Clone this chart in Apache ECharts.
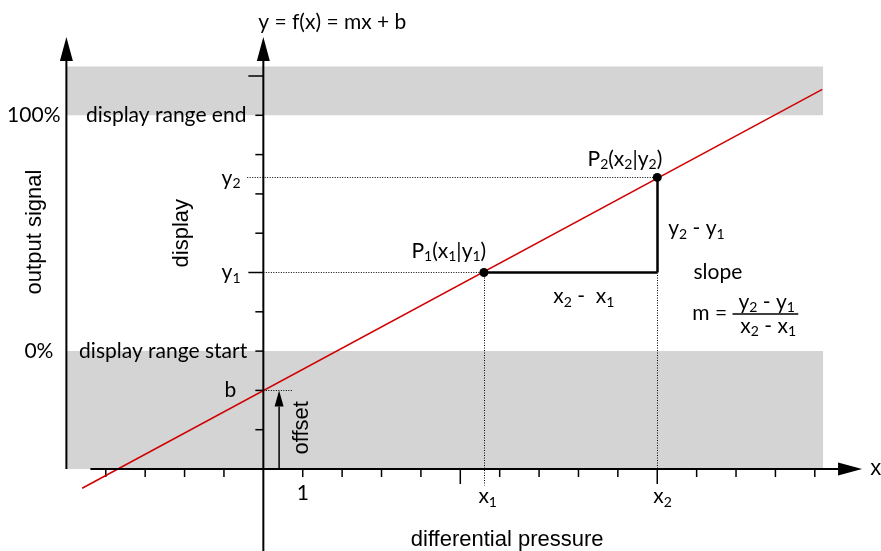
<!DOCTYPE html>
<html>
<head>
<meta charset="utf-8">
<script src="https://cdn.jsdelivr.net/npm/echarts@6/dist/echarts.min.js"></script>
<style>
html, body { margin: 0; padding: 0; background: #fff; }
#chart { width: 881px; height: 551px; }
</style>
</head>
<body>
<div id="chart"></div>
<script>
// all values are in axis units (1 unit = distance between two ticks)
var xTicks = [-4, -3, -2, -1, 1, 2, 3, 4, 5, 6, 7, 8, 9, 10, 11, 12, 13, 14]
var yTicks = [1, 2, 3, 4, 5, 6, 7, 8, 9, 10]
var majorTicks = [5, 10]

// grey bands: below display range start and above display range end
var bandLow = [-5, 0, 14.21, 3]
var bandHigh = [-5, 9, 14.21, 10.24]

// the characteristic line y = mx + b
var lineStart = [-4.6, -0.49]
var lineEnd = [14.19, 9.66]
var P1 = [5.6, 5]
var P2 = [10, 7.42]
var offsetB = 2

// axes and the offset arrow: [x0, y0, x1, y1]
var axisX = [-4.39, 0, 15.2, 0]
var axisDisplay = [0, -2.1, 0, 10.99]
var axisOutput = [-5, 0, -5, 10.99]
var arrowOffset = [0.4, 0, 0.4, offsetB]

// dotted helper lines
var dottedLines = [
    [[-0.41, P2[1]], P2],
    [[0, P1[1]], P1],
    [P1, [P1[0], -0.42]],
    [[P2[0], P1[1]], [P2[0], 0]],
    [[0, offsetB], [0.76, offsetB]]
]

// solid triangle and fraction bar
var solidLines = [
    [P1, [P2[0], P1[1]]],
    [[P2[0], P1[1]], P2]
]
var fractionBar = [[11.91, 3.95], [13.58, 3.95]]

// labels: [x, y, text, align, font, rotate]
var labels = [
    [-0.13, 11.37, 'y = f(x) = mx + b', 'left', 'c', 0],
    [-5.15, 9.0, '100%', 'right', 'c', 0],
    [-0.43, 9.0, 'display range end', 'right', 'c', 0],
    [-5.33, 3.0, '0%', 'right', 'c', 0],
    [-0.41, 3.0, 'display range start', 'right', 'c', 0],
    [-5.81, 6.03, 'output signal', 'center', 'a', 90],
    [-2.06, 6.0, 'display', 'center', 'a', 90],
    [-0.58, 7.41, 'y{s|2}', 'right', 'c', 0],
    [-0.58, 5.0, 'y{s|1}', 'right', 'c', 0],
    [-0.69, 2.0, 'b', 'right', 'c', 0],
    [1.0, -0.61, '1', 'center', 'c', 0],
    [5.46, -0.69, 'x{s|1}', 'left', 'c', 0],
    [9.9, -0.69, 'x{s|2}', 'left', 'c', 0],
    [15.41, 0.0, 'x', 'left', 'a', 0],
    [6.19, -1.81, 'differential pressure', 'center', 'a', 0],
    [3.76, 5.55, 'P{s|1}(x{s|1}|y{s|1})', 'left', 'c', 0],
    [8.23, 7.89, 'P{s|2}(x{s|2}|y{s|2})', 'left', 'c', 0],
    [10.28, 6.13, 'y{s|2} - y{s|1}', 'left', 'c', 0],
    [7.36, 4.40, 'x{s|2} -  x{s|1}', 'left', 'c', 0],
    [10.92, 5.01, 'slope', 'left', 'c', 0],
    [10.89, 3.97, 'm =', 'left', 'c', 0],
    [12.06, 4.25, 'y{s|2} - y{s|1}', 'left', 'c', 0],
    [12.11, 3.64, 'x{s|2} - x{s|1}', 'left', 'c', 0],
    [0.99, 1.05, 'offset', 'center', 'a', 90]
]

var calibri = 'Lato'
var arial = 'Liberation Sans'

var chart = echarts.init(document.getElementById('chart'))

function arrowItem(params, api) {
    var a = api.coord([api.value(0), api.value(1)])
    var e = api.coord([api.value(2), api.value(3)])
    var small = params.dataIndex == 3
    var hl = small ? 16 : 24 // head length
    var hw = small ? 9 : 13  // head width
    var dx = e[0] - a[0], dy = e[1] - a[1]
    var len = Math.sqrt(dx * dx + dy * dy)
    dx /= len; dy /= len
    var bx = e[0] - dx * hl, by = e[1] - dy * hl
    return {
        type: 'group',
        children: [{
            type: 'line',
            shape: { x1: a[0], y1: a[1], x2: bx, y2: by },
            style: { stroke: '#000', lineWidth: small ? 1.5 : 2 }
        }, {
            type: 'polygon',
            shape: { points: [e, [bx - dy * hw / 2, by + dx * hw / 2], [bx + dy * hw / 2, by - dx * hw / 2]] },
            style: { fill: '#000' }
        }]
    }
}

function tickItem(horizontal) {
    return function (params, api) {
        var v = api.value(0)
        var len = majorTicks.indexOf(v) >= 0 ? 15 : 8
        var p = horizontal ? api.coord([v, 0]) : api.coord([0, v])
        return {
            type: 'line',
            shape: horizontal ? { x1: p[0], y1: p[1], x2: p[0], y2: p[1] + len }
                : { x1: p[0] - len, y1: p[1], x2: p[0], y2: p[1] },
            style: { stroke: '#000', lineWidth: 1.5 }
        }
    }
}

function labelItem(params, api) {
    var l = labels[params.dataIndex]
    var p = api.coord([l[0], l[1]])
    var isArial = l[4] == 'a'
    return {
        type: 'text',
        x: p[0],
        y: p[1],
        rotation: l[5] * Math.PI / 180,
        style: {
            text: l[2],
            fill: '#000',
            fontFamily: isArial ? arial : calibri,
            fontSize: isArial ? 22 : 21,
            align: l[3],
            verticalAlign: 'middle',
            rich: {
                // subscript: small digits pushed to the bottom of a taller line
                s: { fontFamily: calibri, fontSize: 14, verticalAlign: 'bottom', lineHeight: 26, fill: '#000' }
            }
        }
    }
}

function rectItem(params, api) {
    var a = api.coord([api.value(0), api.value(3)])
    var e = api.coord([api.value(2), api.value(1)])
    return {
        type: 'rect',
        shape: { x: a[0], y: a[1], width: e[0] - a[0], height: e[1] - a[1] },
        style: { fill: '#d4d4d4' }
    }
}

var option = {
    animation: false,
    grid: { left: 27, top: 36.7, width: 827.2, height: 510.9 },
    xAxis: { type: 'value', min: -6, max: 15, show: false },
    yAxis: { type: 'value', min: -2, max: 11, show: false },
    series: [{
        // grey bands
        type: 'custom',
        z: 1,
        silent: true,
        renderItem: rectItem,
        data: [bandLow, bandHigh]
    }, {
        type: 'custom',
        z: 5,
        silent: true,
        renderItem: tickItem(true),
        data: xTicks.map(function (v) { return [v] })
    }, {
        type: 'custom',
        z: 5,
        silent: true,
        renderItem: tickItem(false),
        data: yTicks.map(function (v) { return [v] })
    }, {
        type: 'lines',
        coordinateSystem: 'cartesian2d',
        z: 4,
        silent: true,
        lineStyle: { color: '#000', width: 1, type: [1, 1.5], opacity: 1 },
        data: dottedLines.map(function (c) { return { coords: c } })
    }, {
        // the characteristic line
        type: 'line',
        z: 6,
        silent: true,
        showSymbol: false,
        lineStyle: { color: '#d00000', width: 1.5 },
        data: [lineStart, lineEnd]
    }, {
        type: 'lines',
        coordinateSystem: 'cartesian2d',
        z: 7,
        silent: true,
        lineStyle: { color: '#000', width: 2.5, opacity: 1 },
        data: solidLines.map(function (c) { return { coords: c } })
    }, {
        type: 'lines',
        coordinateSystem: 'cartesian2d',
        z: 7,
        silent: true,
        lineStyle: { color: '#000', width: 1.5, opacity: 1 },
        data: [{ coords: fractionBar }]
    }, {
        type: 'custom',
        z: 8,
        silent: true,
        renderItem: arrowItem,
        data: [axisX, axisDisplay, axisOutput, arrowOffset]
    }, {
        type: 'scatter',
        z: 9,
        silent: true,
        symbolSize: 9,
        itemStyle: { color: '#000', opacity: 1 },
        data: [P1, P2]
    }, {
        type: 'custom',
        z: 10,
        silent: true,
        renderItem: labelItem,
        data: labels.map(function (l) { return [l[0], l[1]] })
    }]
}

chart.setOption(option)
window.addEventListener('resize', chart.resize)
</script>
</body>
</html>
